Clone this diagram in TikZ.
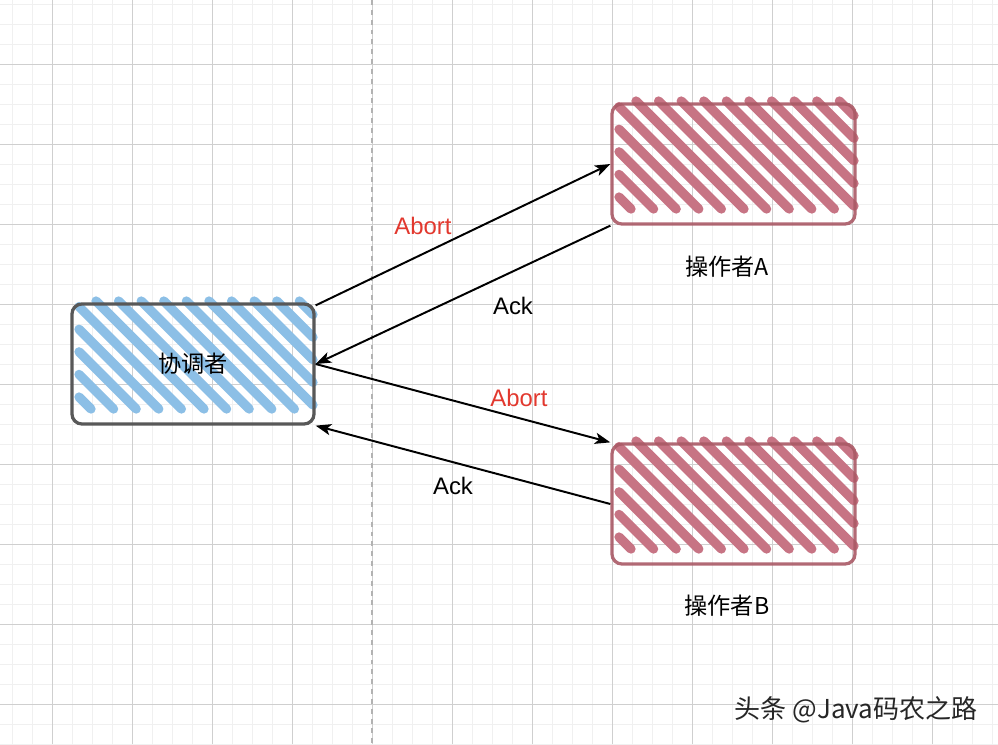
\documentclass[tikz,border=0pt]{standalone}
\usepackage{fontspec}
\setmainfont{Liberation Sans}
\newfontfamily\cjk{Noto Sans CJK SC}
\usetikzlibrary{arrows.meta, calc}

\definecolor{hatchblue}{RGB}{140,191,230}
\definecolor{hatchred}{RGB}{199,116,132}
\definecolor{edgered}{RGB}{170,90,102}
\definecolor{edgegray}{RGB}{88,88,88}
\definecolor{abortred}{RGB}{226,56,46}

% diagonal sketch fill of a box given in pixels (x0, y0, x1, y1)
\newcommand{\hatchfill}[5]{%
  \foreach \k in {-8,...,12}{
    \pgfmathsetmacro{\cc}{#1-#2+27+22.6*\k}
    \pgfmathsetmacro{\ya}{max(#2-3,#1+7-\cc)}
    \pgfmathsetmacro{\yb}{min(#4-15,#3-1-\cc)}
    \pgfmathsetmacro{\xa}{\ya+\cc}
    \pgfmathsetmacro{\xb}{\yb+\cc}
    \pgfmathtruncatemacro{\ok}{\yb-\ya>3 ? 1 : 0}
    \ifnum\ok=1
      \draw[hatch, draw=#5] (\xa,\ya) -- (\xb,\yb);
    \fi
  }}

\begin{document}
\begin{tikzpicture}[
    x=0.025cm, y=-0.025cm,
    minorline/.style={draw=black!6, line width=0.7pt},
    majorline/.style={draw=black!19, line width=0.7pt},
    divider/.style={draw=black!30, line width=0.8pt, dash pattern=on 3.5pt off 3.5pt},
    hatch/.style={line width=6.6pt, line cap=round},
    coordbox/.style={rectangle, draw=edgegray, line width=2.3pt, rounded corners=0.25cm, minimum width=6.05cm, minimum height=3cm, font=\cjk\fontsize{16.5}{20}\selectfont},
    opbox/.style={rectangle, draw=edgered, draw opacity=0.9, line width=2.3pt, rounded corners=0.25cm, minimum width=6.075cm, minimum height=3cm},
    line/.style={draw=black, line width=1.4pt, -{Stealth[length=11pt, width=8pt, inset=2.8pt]}},
    abortlbl/.style={inner sep=1pt, text=abortred, font=\fontsize{17}{20}\selectfont},
    acklbl/.style={inner sep=1pt, text=black, font=\fontsize{17}{20}\selectfont},
    namelbl/.style={inner sep=1pt, text=black, font=\cjk\fontsize{16.5}{20}\selectfont},
    marklbl/.style={inner sep=1pt, text=black!85, font=\cjk\fontsize{18.5}{22}\selectfont}
]
    \useasboundingbox (0,0) rectangle (998,744);

    % Raster
    \fill[white] (0,0) rectangle (998,744);
    \foreach \x in {12,32,...,992} \draw[minorline] (\x,0) -- (\x,744);
    \foreach \y in {4,24,...,744} \draw[minorline] (0,\y) -- (998,\y);
    \foreach \x in {52,132,...,932} \draw[majorline] (\x,0) -- (\x,744);
    \foreach \y in {64,144,...,704} \draw[majorline] (0,\y) -- (998,\y);

    \coordinate (divtop) at (372,0);
    \coordinate (divbot) at (372,744);
    \draw[divider] (divtop) -- (divbot);

    % Schraffur
    \hatchfill{72}{304}{314}{424}{hatchblue}
    \hatchfill{612}{104}{855}{224}{hatchred}
    \hatchfill{612}{444}{855}{564}{hatchred}

    % Knoten
    \node[coordbox] (coord) at (193,364) {协调者};
    \node[opbox] (opA) at (733.5,164) {};
    \node[opbox] (opB) at (733.5,504) {};

    \node[namelbl] (nameA) at (727,267) {操作者A};
    \node[namelbl] (nameB) at (727,606) {操作者B};

    % Verbindungen
    \draw[line] ([yshift=-0.075cm]coord.north east) -- (opA.west);
    \draw[line] (opA.south west) -- (coord.east);
    \draw[line] (coord.east) -- (opB.north west);
    \draw[line] (opB.west) -- (coord.south east);

    \node[abortlbl] (abortA) at (423,226) {Abort};
    \node[acklbl] (ackA) at (513,306) {Ack};
    \node[abortlbl] (abortB) at (519,398) {Abort};
    \node[acklbl] (ackB) at (453,486) {Ack};

    \node[marklbl] (mark) at (856,710) {头条 @Java码农之路};

\end{tikzpicture}
\end{document}
